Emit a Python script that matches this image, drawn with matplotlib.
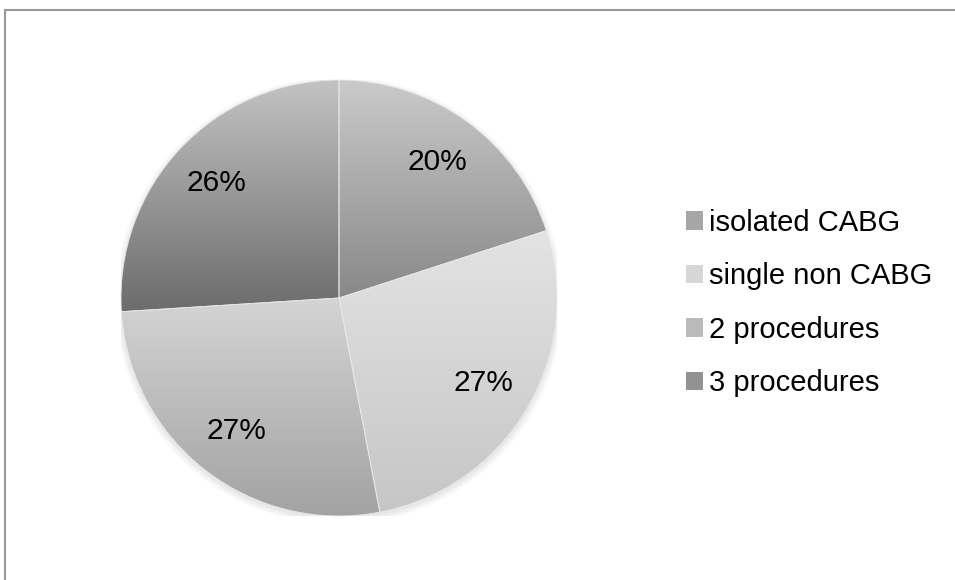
import numpy as np
import matplotlib
matplotlib.use("Agg")
import matplotlib.pyplot as plt
from matplotlib.patches import Patch
from matplotlib.lines import Line2D

plt.rcParams["font.family"] = ["Liberation Sans", "DejaVu Sans"]

# procedure mix
labels = ["isolated CABG", "single non CABG", "2 procedures", "3 procedures"]
shares = [20, 27, 27, 26]

# per-slice vertical gradient (top colour, bottom colour)
grad_top = ["#cacaca", "#e3e3e3", "#d4d4d4", "#c3c3c3"]
grad_bottom = ["#888888", "#c6c6c6", "#a2a2a2", "#6c6c6c"]
legend_colors = ["#a6a6a6", "#d6d6d6", "#bababa", "#929292"]

W, H = 955, 580
fig = plt.figure(figsize=(W / 100, H / 100), dpi=100)

# pie centre at (339, 298) px from top-left, radius 218 px
cx, cy, r = 339, 298, 218
ax = fig.add_axes([(cx - r) / W, (H - cy - r) / H, 2 * r / W, 2 * r / H])
ax.set_xlim(-1, 1)
ax.set_ylim(-1, 1)
ax.axis("off")

# soft shadow under the pie
for k in range(8):
    sh = plt.Circle((0, -0.012), 1.0 + 0.004 * k, color="black", alpha=0.012, lw=0)
    ax.add_patch(sh)

wedges, texts, autotexts = ax.pie(shares, startangle=90, counterclock=False,
                                  radius=1.0, autopct="%1.0f%%", pctdistance=0.77,
                                  colors=legend_colors,
                                  wedgeprops=dict(linewidth=0.6, edgecolor="#e8e8e8"),
                                  textprops=dict(fontsize=21.5, color="black"))

def hex2rgb(h):
    return np.array(matplotlib.colors.to_rgb(h))

# paint each wedge with its own top-to-bottom gradient
for w, c0, c1 in zip(wedges, grad_top, grad_bottom):
    verts = w.get_path().vertices
    ymin, ymax = verts[:, 1].min(), verts[:, 1].max()
    xmin, xmax = verts[:, 0].min(), verts[:, 0].max()
    t = np.linspace(0, 1, 256)[:, None]
    img = (1 - t) * hex2rgb(c0) + t * hex2rgb(c1)
    img = np.repeat(img[:, None, :], 2, axis=1)
    im = ax.imshow(img, extent=[xmin, xmax, ymin, ymax], origin="upper",
                   aspect="auto", interpolation="bilinear", zorder=w.get_zorder())
    im.set_clip_path(w)
    w.set_facecolor("none")
    w.set_zorder(im.get_zorder() + 0.1)

for t in autotexts:
    t.set_zorder(5)

ax.set_xlim(-1, 1)
ax.set_ylim(-1, 1)

handles = [Patch(facecolor=c, edgecolor="none") for c in legend_colors]
fig.legend(handles, labels, loc="center left", bbox_to_anchor=(671 / W, 1 - 303 / H),
           frameon=False, fontsize=21, handlelength=0.6, handleheight=0.6,
           handletextpad=0.2, labelspacing=0.87, borderpad=0)

# chart frame (top and left edges)
fig.add_artist(Line2D([4.5 / W, 1], [1 - 9.5 / H, 1 - 9.5 / H], color="#999999", lw=1.5))
fig.add_artist(Line2D([4.5 / W, 4.5 / W], [0, 1 - 9.5 / H], color="#999999", lw=1.5))

fig.savefig("out.png", dpi=100, facecolor="white")
